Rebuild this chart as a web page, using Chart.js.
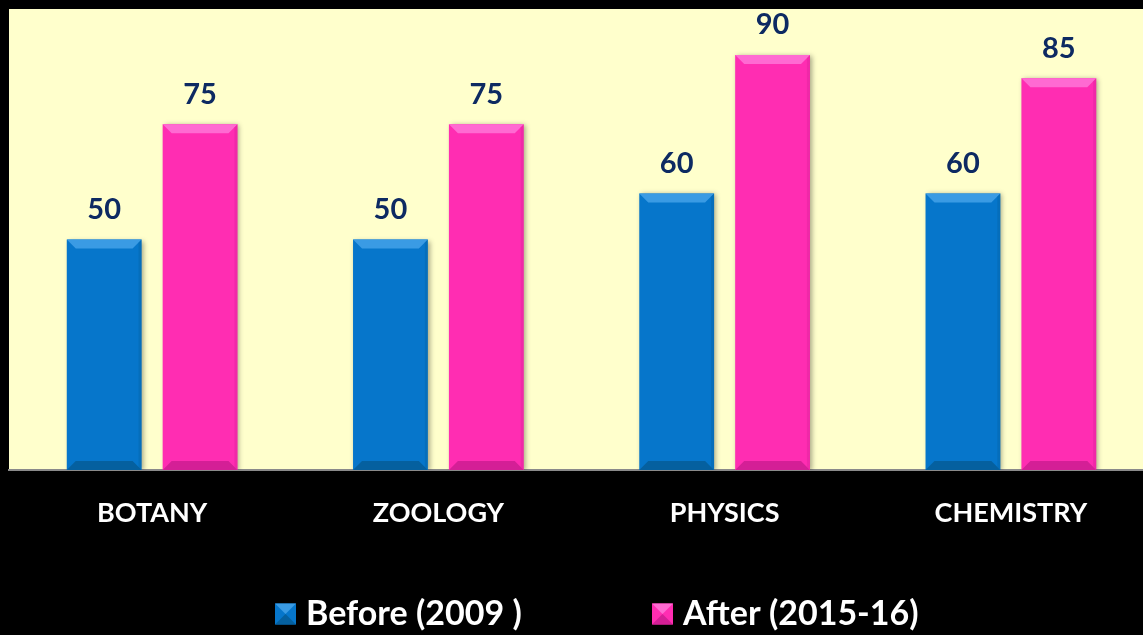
<!DOCTYPE html>
<html>
<head>
<meta charset="utf-8">
<script src="https://cdn.jsdelivr.net/npm/chart.js@4.4.1/dist/chart.umd.min.js"></script>
<style>
  html, body { margin: 0; padding: 0; background: #000; overflow: hidden; }
  #wrap { width: 1160px; height: 635px; position: relative; }
</style>
</head>
<body>
<div id="wrap"><canvas id="c" width="1160" height="635"></canvas></div>
<script>
const categories = ["BOTANY", "ZOOLOGY", "PHYSICS", "CHEMISTRY"];
const seriesNames = ["Before (2009 )", "After (2015-16)"];
const beforeValues = [50, 50, 60, 60];
const afterValues = [75, 75, 90, 85];
const yMin = 0, yMax = 100;

const COLORS = {
  blue: "#0676cb", blueLight: "#3a9be4", blueDark: "#05609f",
  pink: "#ff2db2", pinkLight: "#ff6ad2", pinkDark: "#d41f96",
  plotBg: "#ffffcc", label: "#0d2a62"
};
const FONT = "Lato, 'Open Sans', 'DejaVu Sans', sans-serif";

const bgPlugin = {
  id: "bg",
  beforeDraw(chart) {
    const { ctx, chartArea: a } = chart;
    ctx.save();
    ctx.fillStyle = "#000";
    ctx.fillRect(0, 0, chart.width, chart.height);
    ctx.fillStyle = COLORS.plotBg;
    ctx.fillRect(a.left, a.top, a.right - a.left, a.bottom - a.top);
    ctx.restore();
  }
};

const shadowPlugin = {
  id: "shadow",
  beforeDatasetsDraw(chart) {
    const ctx = chart.ctx;
    ctx.save();
    ctx.shadowColor = "rgba(0,0,0,0.35)";
    ctx.shadowBlur = 5;
    ctx.shadowOffsetX = 2;
    ctx.shadowOffsetY = 1;
  },
  afterDatasetsDraw(chart) {
    chart.ctx.restore();
  }
};

function bevel(ctx, l, t, r, b, light, dark, s) {
  ctx.save();
  ctx.fillStyle = light;
  ctx.beginPath();
  ctx.moveTo(l, t); ctx.lineTo(r, t); ctx.lineTo(r - s, t + s); ctx.lineTo(l + s, t + s);
  ctx.closePath(); ctx.fill();
  ctx.fillStyle = dark;
  ctx.beginPath();
  ctx.moveTo(l, b); ctx.lineTo(r, b); ctx.lineTo(r - s, b - s); ctx.lineTo(l + s, b - s);
  ctx.closePath(); ctx.fill();
  ctx.globalAlpha = 0.35;
  ctx.beginPath();
  ctx.moveTo(r, t); ctx.lineTo(r, b); ctx.lineTo(r - 3, b - 3); ctx.lineTo(r - 3, t + 3);
  ctx.closePath(); ctx.fill();
  ctx.restore();
}

const bevelPlugin = {
  id: "bevel",
  afterDatasetsDraw(chart) {
    const ctx = chart.ctx;
    chart.data.datasets.forEach((ds, di) => {
      const meta = chart.getDatasetMeta(di);
      const light = di === 0 ? COLORS.blueLight : COLORS.pinkLight;
      const dark = di === 0 ? COLORS.blueDark : COLORS.pinkDark;
      meta.data.forEach((bar) => {
        const l = bar.x - bar.width / 2, r = bar.x + bar.width / 2;
        bevel(ctx, l, bar.y, r, bar.base, light, dark, 9);
      });
    });
  }
};

const labelPlugin = {
  id: "vals",
  afterDatasetsDraw(chart) {
    const ctx = chart.ctx;
    ctx.save();
    ctx.fillStyle = COLORS.label;
    ctx.font = "bold 29px " + FONT;
    ctx.textAlign = "center";
    ctx.textBaseline = "middle";
    chart.data.datasets.forEach((ds, di) => {
      const meta = chart.getDatasetMeta(di);
      meta.data.forEach((bar, i) => {
        ctx.fillText(String(ds.data[i]), bar.x, bar.y - 30);
      });
    });
    ctx.restore();
  }
};

const legendPlugin = {
  id: "customLegend",
  afterDraw(chart) {
    const ctx = chart.ctx;
    const items = [
      { x: 275, ds: 0, light: COLORS.blueLight, dark: COLORS.blueDark },
      { x: 652, ds: 1, light: COLORS.pinkLight, dark: COLORS.pinkDark }
    ];
    const cy = 614, bs = 21;
    ctx.save();
    items.forEach(it => {
      const ds = chart.data.datasets[it.ds];
      ctx.fillStyle = ds.backgroundColor;
      ctx.fillRect(it.x, cy - bs / 2, bs, bs);
      ctx.fillStyle = it.light;
      ctx.beginPath();
      ctx.moveTo(it.x, cy - bs / 2); ctx.lineTo(it.x + bs, cy - bs / 2);
      ctx.lineTo(it.x + bs / 2, cy); ctx.closePath(); ctx.fill();
      ctx.fillStyle = it.dark;
      ctx.beginPath();
      ctx.moveTo(it.x, cy + bs / 2); ctx.lineTo(it.x + bs, cy + bs / 2);
      ctx.lineTo(it.x + bs / 2, cy); ctx.closePath(); ctx.fill();
      ctx.fillStyle = "#ffffff";
      ctx.font = "bold 34px " + FONT;
      ctx.textAlign = "left";
      ctx.textBaseline = "middle";
      ctx.fillText(ds.label, it.x + 31, cy);
    });
    ctx.restore();
  }
};

new Chart(document.getElementById("c"), {
  type: "bar",
  data: {
    labels: categories,
    datasets: [
      { label: seriesNames[0], data: beforeValues, backgroundColor: COLORS.blue },
      { label: seriesNames[1], data: afterValues, backgroundColor: COLORS.pink }
    ]
  },
  options: {
    responsive: false,
    animation: false,
    devicePixelRatio: 1,
    layout: { padding: { left: 9, top: 9, right: 6, bottom: 85 } },
    datasets: { bar: { categoryPercentage: 0.67, barPercentage: 0.78 } },
    plugins: {
      legend: { display: false },
      tooltip: { enabled: false }
    },
    scales: {
      x: {
        grid: { display: false, drawTicks: false },
        border: { display: true, color: "#8a8a8a", width: 2 },
        ticks: { color: "#ffffff", font: { family: FONT, size: 27, weight: "bold" }, padding: 27, maxRotation: 0 },
        afterFit(scale) { scale.height = 80; }
      },
      y: {
        display: false,
        min: yMin,
        max: yMax
      }
    }
  },
  plugins: [bgPlugin, shadowPlugin, bevelPlugin, labelPlugin, legendPlugin]
});
</script>
</body>
</html>
